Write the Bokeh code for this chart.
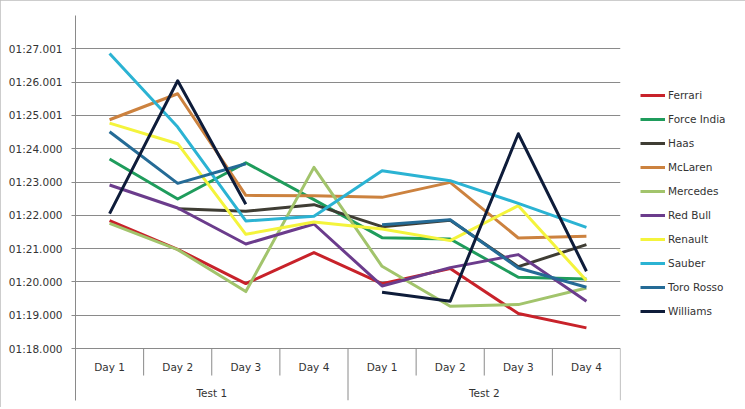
from bokeh.plotting import figure
from bokeh.models import (FactorRange, Range1d, FixedTicker, ColumnDataSource,
                          Legend, LegendItem)
from bokeh.core.properties import value
from bokeh.embed import file_html
from bokeh.resources import INLINE

nan = float("nan")

tests = ["Test 1", "Test 2"]
days = ["Day 1", "Day 2", "Day 3", "Day 4"]

# lap times in seconds (01:xx.xxx -> 60 + xx.xxx)
ferrari    = [81.84, 80.98, 79.95, 80.88, 79.95, 80.40, 79.05, 78.62]
force_india = [83.69, 82.49, 83.58, 82.47, 81.33, 81.29, 80.14, 80.09]
haas       = [nan,   82.20, 82.12, 82.32, 81.66, 81.85, 80.46, 81.12]
mclaren    = [84.87, 85.65, 82.60, 82.59, 82.54, 82.99, 81.32, 81.37]
mercedes   = [81.76, 80.97, 79.71, 83.44, 80.47, 79.27, 79.32, 79.82]
red_bull   = [82.91, 82.22, 81.14, 81.74, 79.88, 80.43, 80.82, 79.42]
renault    = [84.77, 84.15, 81.43, 81.80, 81.59, 81.24, 82.29, 80.04]
sauber     = [86.86, 84.65, 81.83, 81.97, 83.34, 83.04, 82.36, 81.64]
toro_rosso = [84.51, 82.96, 83.55, nan,   81.72, 81.87, 80.42, 79.84]
williams   = [82.05, 86.04, 82.33, nan,   79.69, 79.42, 84.45, 80.32]

teams = ["Ferrari", "Force India", "Haas", "McLaren", "Mercedes", "Red Bull",
         "Renault", "Sauber", "Toro Rosso", "Williams"]
series = [ferrari, force_india, haas, mclaren, mercedes, red_bull,
          renault, sauber, toro_rosso, williams]
colors = ["#c8222a", "#1f9c5c", "#3f3d34", "#cc823f", "#a2c46c", "#6b3c8c",
          "#f4f43c", "#2bb3d3", "#256b96", "#0e1c3a"]

y_ticks = [78, 79, 80, 81, 82, 83, 84, 85, 86, 87]
y_tick_labels = ["01:18.000", "01:19.000", "01:20.000", "01:21.000", "01:22.000",
                 "01:23.000", "01:24.000", "01:25.001", "01:26.001", "01:27.001"]

factors = [(t, d) for t in tests for d in days]

GRID = "#8a8a8a"
TXT = "#333333"
FONT = "DejaVu Sans"

x_range = FactorRange(*factors, factor_padding=0, group_padding=0,
                      subgroup_padding=0, range_padding=0)
y_bottom = 76.44
p = figure(frame_width=545, frame_height=385, x_range=x_range,
           y_range=Range1d(y_bottom, 88),
           output_backend="svg", toolbar_location=None, x_axis_location=None,
           min_border_left=75, min_border_top=15, min_border_bottom=7,
           min_border_right=125)
p.outline_line_color = None
p.background_fill_color = "white"
p.border_fill_color = "white"
p.styles = {"outline": "1px solid #bdbdbd", "outline-offset": "-1px"}

# y axis
ax = p.yaxis[0]
ax.ticker = FixedTicker(ticks=y_ticks)
ax.major_label_overrides = {float(t): l for t, l in zip(y_ticks, y_tick_labels)}
ax.axis_line_color = GRID
ax.major_tick_line_color = GRID
ax.major_tick_out = 4
ax.major_tick_in = 0
ax.minor_tick_line_color = None
ax.major_label_standoff = 9
ax.major_label_text_font = FONT
ax.major_label_text_font_size = "10.5px"
ax.major_label_text_color = TXT

p.xgrid.grid_line_color = None
p.ygrid.ticker = FixedTicker(ticks=y_ticks)
p.ygrid.grid_line_color = GRID
p.ygrid.grid_line_width = 1

# category axis (drawn inside the frame below 01:18)
day_sep_bottom = 77.19
p.segment(x0=[1, 2, 3, 5, 6, 7], y0=78, x1=[1, 2, 3, 5, 6, 7], y1=day_sep_bottom,
          line_color=GRID, line_width=1)
p.segment(x0=[4, 7.999], y0=78, x1=[4, 7.999], y1=y_bottom,
          line_color=GRID, line_width=1)
p.text(x=factors, y=[77.46] * len(factors), text=[f[1] for f in factors],
       text_align="center", text_baseline="middle", text_font=value(FONT),
       text_font_size="10.5px", text_color=TXT)
p.text(x=tests, y=[76.68] * len(tests), text=tests,
       text_align="center", text_baseline="middle", text_font=value(FONT),
       text_font_size="10.5px", text_color=TXT)

items = []
for name, vals, c in zip(teams, series, colors):
    src = ColumnDataSource(dict(x=factors, y=vals))
    r = p.line("x", "y", source=src, line_color=c, line_width=3, line_join="round")
    items.append(LegendItem(label=name, renderers=[r]))

legend = Legend(items=items, location=(20, 79), border_line_color=None,
                background_fill_alpha=0, glyph_width=25, glyph_height=20,
                label_height=20, spacing=4, label_standoff=3, padding=0, margin=0,
                label_text_font=FONT, label_text_font_size="10.5px",
                label_text_color=TXT)
p.add_layout(legend, "right")

open("out.html", "w").write(file_html(p, INLINE))
